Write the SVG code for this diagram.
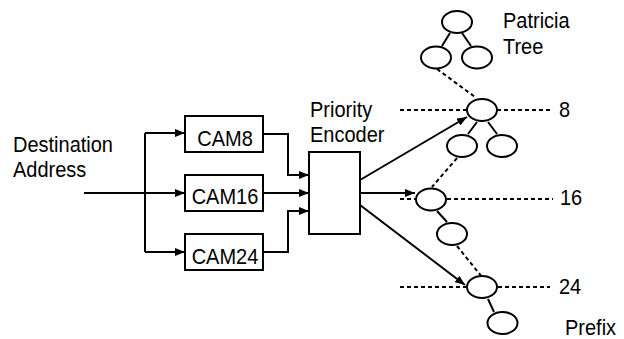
<svg xmlns="http://www.w3.org/2000/svg" width="624" height="339" viewBox="0 0 624 339">
<defs>
<marker id="arr" markerUnits="userSpaceOnUse" markerWidth="10" markerHeight="8" refX="10" refY="4" orient="auto">
<path d="M0,0 L10,4 L0,8 z" fill="#000"/>
</marker>
<style>
.t{font-family:"Liberation Sans",Arial,sans-serif;font-size:20px;fill:#000}
.box{fill:#fff;stroke:#000;stroke-width:2}
.nd{fill:#fff;stroke:#000;stroke-width:2}
.ln{fill:none;stroke:#000;stroke-width:2}
.ar{fill:none;stroke:#000;stroke-width:2;marker-end:url(#arr)}
.ds{fill:none;stroke:#000;stroke-width:2;stroke-dasharray:4 3}
</style>
</defs>
<rect width="624" height="339" fill="#fff"/>
<g id="connectors">
<path class="ln" d="M84,193 H145"/>
<path class="ln" d="M145,133 V252"/>
<path class="ar" d="M145,133 H185"/>
<path class="ar" d="M145,193 H185"/>
<path class="ar" d="M145,252 H185"/>
<path class="ar" d="M263,134 H288 V175 H309"/>
<path class="ar" d="M263,193 H309"/>
<path class="ar" d="M263,252 H288 V211 H309"/>
<path class="ar" d="M360,180 L467,117"/>
<path class="ar" d="M360,193 H415"/>
<path class="ar" d="M360,205 L465,285"/>
<path class="ln" d="M450,33 L442,46 M462,33 L471,46"/>
<path class="ds" d="M437,69 L475,97"/>
<path class="ln" d="M477,122 L468,134 M488,122 L497,134"/>
<path class="ds" d="M457,158 L432,187"/>
<path class="ln" d="M437,211 L447,222"/>
<path class="ds" d="M457,246 L482,277"/>
<path class="ln" d="M488,299 L494,312"/>
<path class="ds" d="M400,110 H467 M497,110 H550"/>
<path class="ds" d="M400,199 H416 M447,199 H553"/>
<path class="ds" d="M400,287 H467 M498,287 H550"/>
</g>
<g id="dest"><text class="t" transform="translate(13,151.5) scale(1,1.08)">Destination</text><text class="t" transform="translate(13,177) scale(1,1.08)">Address</text></g>
<g id="cam8"><rect class="box" x="185" y="116" width="78" height="36"/><text class="t" transform="translate(225,145.5) scale(1,1.08)" text-anchor="middle">CAM8</text></g>
<g id="cam16"><rect class="box" x="185" y="175" width="78" height="36"/><text class="t" transform="translate(225,204.3) scale(1,1.08)" text-anchor="middle">CAM16</text></g>
<g id="cam24"><rect class="box" x="185" y="234" width="78" height="36"/><text class="t" transform="translate(225,263.5) scale(1,1.08)" text-anchor="middle">CAM24</text></g>
<g id="encoder"><rect class="box" x="309" y="152" width="51" height="82"/><text class="t" transform="translate(310,116.5) scale(1,1.08)">Priority</text><text class="t" transform="translate(310,141.5) scale(1,1.08)">Encoder</text></g>
<g id="tree-root"><ellipse class="nd" cx="457" cy="22" rx="15" ry="11"/></g>
<g id="tree-left"><ellipse class="nd" cx="436" cy="57.5" rx="15" ry="11"/></g>
<g id="tree-right"><ellipse class="nd" cx="477" cy="57.5" rx="15" ry="11"/></g>
<g id="tree-label"><text class="t" transform="translate(503,27.5) scale(1,1.08)">Patricia</text><text class="t" transform="translate(503,53.5) scale(1,1.08)">Tree</text></g>
<g id="n8"><ellipse class="nd" cx="482" cy="110" rx="15" ry="11"/><text class="t" transform="translate(559,116.5) scale(1,1.08)">8</text></g>
<g id="n8l"><ellipse class="nd" cx="462" cy="146" rx="15" ry="11"/></g>
<g id="n8r"><ellipse class="nd" cx="502" cy="146" rx="15" ry="11"/></g>
<g id="n16"><ellipse class="nd" cx="431" cy="199.5" rx="15" ry="11"/><text class="t" transform="translate(560,204.5) scale(1,1.08)">16</text></g>
<g id="n16c"><ellipse class="nd" cx="452" cy="234" rx="15" ry="11"/></g>
<g id="n24"><ellipse class="nd" cx="482" cy="287" rx="15" ry="11"/><text class="t" transform="translate(559,293.5) scale(1,1.08)">24</text></g>
<g id="n24c"><ellipse class="nd" cx="502.5" cy="323" rx="15" ry="11"/><text class="t" transform="translate(565,335) scale(1,1.08)">Prefix</text></g>
</svg>
